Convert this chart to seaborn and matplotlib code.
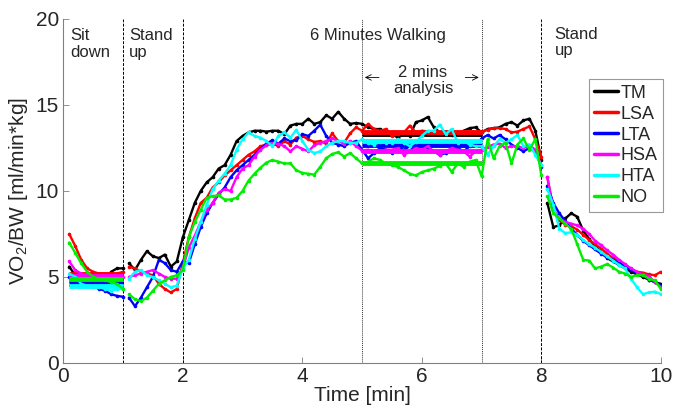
import matplotlib
matplotlib.use("Agg")
import matplotlib.pyplot as plt
from matplotlib.lines import Line2D
import seaborn as sns
import numpy as np
import pandas as pd

# sampling grid of the three recorded segments (min)
t_sit = np.round(np.arange(1, 11) * 0.1, 2)         # 0.1 .. 1.0
t_move = np.round(np.arange(11, 81) * 0.1, 2)       # 1.1 .. 8.0
t_rec = np.round(np.arange(81, 101) * 0.1, 2)       # 8.1 .. 10.0

names = ["TM", "LSA", "LTA", "HSA", "HTA", "NO"]
colors = ["#000000", "#ff0000", "#0000ff", "#ff00ff", "#00ffff", "#00ee00"]

# sit down
tm_sit = [5.6, 5.1, 4.9, 4.8, 4.8, 4.7, 4.8, 5.3, 5.5, 5.5]
lsa_sit = [7.5, 6.8, 6.0, 5.5, 5.3, 5.2, 5.2, 5.1, 5.2, 5.3]
lta_sit = [5.0, 4.8, 4.6, 4.6, 4.5, 4.3, 4.2, 4.0, 3.9, 3.85]
hsa_sit = [5.9, 5.4, 5.2, 5.1, 5.0, 5.0, 5.0, 5.0, 5.0, 5.0]
hta_sit = [5.2, 5.0, 4.6, 4.5, 4.4, 4.4, 4.3, 4.2, 4.3, 4.3]
no_sit = [7.0, 6.4, 5.8, 5.3, 5.0, 4.9, 4.8, 4.7, 4.6, 4.3]

# stand up + 6 minutes walking
tm_move = [5.8, 5.4, 6.0, 6.5, 6.2, 6.1, 6.3, 5.6, 5.9, 7.3,
           8.3, 9.3, 10.0, 10.5, 10.8, 11.3, 11.5, 12.1, 12.9, 13.2,
           13.4, 13.5, 13.5, 13.45, 13.5, 13.5, 13.3, 13.8, 13.9, 13.9,
           14.2, 13.9, 14.0, 14.4, 14.2, 14.6, 14.2, 13.9, 13.95, 13.9,
           13.7, 13.6, 13.6, 13.4, 13.3, 13.1, 13.3, 13.2, 14.0, 14.1,
           14.3, 13.7, 13.4, 13.3, 13.25, 13.3, 13.5, 13.65, 13.7, 13.4,
           13.6, 13.65, 13.7, 13.9, 14.0, 13.8, 14.1, 14.2, 13.5, 11.8]
lsa_move = [5.6, 5.5, 5.3, 5.2, 5.1, 4.6, 4.3, 4.1, 4.3, 5.8,
            7.3, 8.4, 9.3, 9.6, 10.2, 10.5, 10.9, 11.2, 11.5, 11.8,
            12.1, 12.3, 12.6, 12.7, 12.75, 12.6, 12.9, 12.7, 13.1, 13.2,
            13.0, 12.85, 12.9, 12.75, 13.35, 12.9, 12.8, 13.35, 13.7, 13.5,
            13.9, 13.6, 13.5, 13.6, 13.2, 13.3, 13.4, 13.8, 13.4, 13.5,
            13.45, 13.4, 13.35, 13.4, 13.35, 13.4, 13.35, 13.4, 13.4, 13.45,
            13.55, 13.65, 13.65, 13.6, 13.4, 13.45, 13.6, 13.75, 13.0, 12.0]
lta_move = [3.8, 3.3, 3.8, 4.4, 5.0, 6.0, 5.8, 5.4, 5.3, 5.9,
            5.8, 6.9, 7.9, 8.7, 9.3, 9.8, 10.2, 10.8, 11.2, 11.5,
            11.8, 12.1, 12.45, 12.75, 12.95, 12.75, 13.05, 12.9, 12.95, 13.3,
            13.2, 13.5, 13.85, 13.2, 12.8, 12.7, 12.6, 12.8, 12.9, 12.4,
            11.9, 12.2, 12.5, 12.4, 12.2, 12.5, 12.4, 12.6, 12.3, 12.6,
            12.5, 12.3, 12.1, 12.2, 12.4, 12.5, 12.3, 12.6, 12.65, 13.05,
            13.25, 13.05, 13.25, 13.0, 12.7, 12.5, 12.3, 12.5, 12.3, 11.4]
hsa_move = [5.0, 5.1, 5.2, 5.3, 5.4, 5.2, 5.0, 4.9, 4.9, 5.5,
            6.7, 7.4, 8.2, 8.9, 9.3, 9.9, 10.1, 10.0, 10.8, 11.3,
            11.5, 12.0, 12.4, 12.65, 12.75, 12.75, 12.6, 12.3, 12.6, 12.45,
            12.3, 12.65, 12.8, 12.9, 13.05, 12.9, 12.75, 12.9, 12.6, 12.35,
            12.4, 12.3, 12.3, 12.4, 12.4, 12.5, 12.1, 12.3, 12.5, 12.4,
            12.6, 12.3, 12.1, 12.3, 12.5, 12.4, 12.3, 12.0, 12.3, 12.4,
            12.55, 12.7, 12.75, 12.5, 12.6, 12.6, 12.5, 12.65, 12.4, 11.5]
hta_move = [4.9, 5.3, 5.4, 5.1, 5.0, 4.8, 4.6, 4.4, 4.5, 5.5,
            6.0, 7.2, 8.2, 9.2, 10.1, 10.6, 11.0, 11.5, 12.4, 13.0,
            13.4, 13.2, 13.1, 12.9, 12.6, 13.2, 13.4, 13.1, 13.55, 12.9,
            12.4, 12.2, 12.3, 12.6, 12.8, 12.9, 12.9, 12.8, 12.8, 13.0,
            12.8, 12.7, 12.85, 12.8, 12.8, 13.0, 12.8, 12.6, 12.85, 13.2,
            13.5, 13.5, 13.85, 13.3, 13.6, 12.8, 12.9, 12.7, 12.6, 12.6,
            12.1, 12.6, 13.0, 12.8, 13.0, 13.25, 12.6, 12.7, 12.1, 11.5]
no_move = [4.0, 3.7, 3.6, 3.8, 4.2, 4.6, 4.8, 5.0, 5.1, 5.4,
           7.3, 8.2, 8.9, 9.6, 9.7, 9.75, 9.5, 9.5, 9.6, 10.0,
           10.6, 11.0, 11.35, 11.65, 11.8, 11.7, 11.6, 11.6, 11.2, 11.05,
           11.0, 10.95, 11.4, 11.9, 12.15, 12.25, 12.0, 12.2, 11.9, 11.6,
           11.7, 11.9, 11.8, 11.6, 11.5, 11.4, 11.2, 11.0, 10.9, 11.1,
           11.2, 11.3, 11.45, 11.6, 11.1, 11.6, 11.4, 11.7, 11.8, 10.85,
           13.0, 11.9, 12.6, 12.8, 11.6, 12.7, 13.05, 12.4, 13.0, 10.9]

# stand up (recovery)
tm_rec = [9.3, 7.9, 8.0, 8.4, 8.7, 8.5, 7.7, 7.2, 6.8, 6.45,
          6.1, 5.9, 5.7, 5.5, 5.3, 5.15, 5.0, 4.85, 4.7, 4.6]
lsa_rec = [10.8, 9.0, 8.3, 8.05, 7.95, 7.75, 7.45, 7.15, 6.9, 6.65,
           6.35, 6.1, 5.9, 5.7, 5.45, 5.3, 5.25, 5.15, 5.1, 5.3]
lta_rec = [10.3, 9.3, 8.7, 8.25, 7.8, 7.45, 7.1, 6.85, 6.6, 6.35,
           6.15, 6.0, 5.8, 5.6, 5.4, 5.25, 5.1, 4.85, 4.7, 4.5]
hsa_rec = [10.8, 8.9, 8.4, 8.2, 8.1, 8.0, 7.8, 7.5, 7.1, 6.85,
           6.55, 6.3, 6.0, 5.75, 5.5, 5.3, 5.15, 5.05, 4.7, 4.4]
hta_rec = [10.1, 9.2, 7.8, 7.55, 7.6, 7.45, 7.15, 6.9, 6.7, 6.45,
           6.2, 5.95, 5.7, 5.5, 4.9, 4.4, 4.0, 4.1, 4.15, 4.0]
no_rec = [9.7, 8.7, 8.4, 8.1, 7.8, 6.9, 6.0, 5.95, 5.5, 5.6,
          5.75, 5.55, 5.3, 5.2, 5.0, 5.1, 5.1, 4.9, 4.8, 4.3]

# averages shown as thick bars
sit_means = [4.8, 5.2, 4.6, 5.05, 4.45, 4.9]      # 0.1 - 1.0 min
walk_means = [13.3, 13.4, 12.7, 12.3, 12.9, 11.6]  # 5 - 7 min (2 mins analysis)

series = {
    "TM": (tm_sit, tm_move, tm_rec),
    "LSA": (lsa_sit, lsa_move, lsa_rec),
    "LTA": (lta_sit, lta_move, lta_rec),
    "HSA": (hsa_sit, hsa_move, hsa_rec),
    "HTA": (hta_sit, hta_move, hta_rec),
    "NO": (no_sit, no_move, no_rec),
}

rows = []
for name in names:
    for phase, (tt, vv) in enumerate(zip((t_sit, t_move, t_rec), series[name])):
        for t, v in zip(tt, vv):
            rows.append({"series": name, "phase": phase, "t": t, "v": v})
df = pd.DataFrame(rows)

sns.set_style("white")
plt.rcParams["font.family"] = ["Liberation Sans", "DejaVu Sans"]
plt.rcParams["mathtext.default"] = "regular"

fig = plt.figure(figsize=(6.73, 4.12), dpi=100)
ax = fig.add_axes([0.094, 0.119, 0.888, 0.835])

palette = dict(zip(names, colors))
for i, name in enumerate(names):
    sub = df[df["series"] == name]
    sns.lineplot(data=sub, x="t", y="v", units="phase", estimator=None,
                 color=palette[name], lw=1.7, marker="o", markersize=2.6,
                 markeredgewidth=0, legend=False, ax=ax, zorder=3 + i)
    ax.plot([0.1, 1.0], [sit_means[i], sit_means[i]], color=palette[name],
            lw=3.5, solid_capstyle="butt", zorder=3 + i)
    ax.plot([5.0, 7.0], [walk_means[i], walk_means[i]], color=palette[name],
            lw=3.5, solid_capstyle="butt", zorder=3 + i)

for xv in [1, 2, 8]:
    ax.axvline(xv, color="black", lw=0.7, ls=(0, (3, 1.5)), zorder=2)
for xv in [5, 7]:
    ax.axvline(xv, color="#333333", lw=0.7, ls=(0, (1, 1)), zorder=2)

txt = dict(fontsize=12, va="top")
ax.text(0.12, 19.45, "Sit\ndown", ha="left", linespacing=1.1, **txt)
ax.text(1.1, 19.45, "Stand\nup", ha="left", linespacing=1.1, **txt)
ax.text(5.27, 19.45, "6 Minutes Walking", ha="center", **txt)
ax.text(6.02, 17.35, "2 mins\nanalysis", ha="center", linespacing=1.1, **txt)
ax.text(8.22, 19.55, "Stand\nup", ha="left", linespacing=1.1, **txt)
arrow = dict(arrowstyle="->", color="black", lw=0.6)
ax.annotate("", xy=(5.0, 16.6), xytext=(5.33, 16.6), arrowprops=arrow)
ax.annotate("", xy=(7.0, 16.6), xytext=(6.68, 16.6), arrowprops=arrow)

ax.set_xlim(0, 10)
ax.set_ylim(0, 20)
ax.set_xticks([0, 2, 4, 6, 8, 10])
ax.set_yticks([0, 5, 10, 15, 20])
ax.tick_params(direction="in", length=4, width=0.6, color="#808080",
               labelsize=15, pad=3, left=True, bottom=True)
sns.despine(ax=ax)
for s in ["left", "bottom"]:
    ax.spines[s].set_color("#808080")
    ax.spines[s].set_linewidth(0.8)
ax.set_xlabel("Time [min]", fontsize=15, labelpad=0)
ax.set_ylabel("VO$_2$/BW [ml/min*kg]", fontsize=15, labelpad=4)

handles = [Line2D([], [], color=c, lw=2.5) for c in colors]
leg = ax.legend(handles, names, loc="upper right", bbox_to_anchor=(1.003, 0.825),
                fontsize=13, handlelength=1.3, handletextpad=0.15,
                labelspacing=0.22, borderpad=0.3, borderaxespad=0,
                frameon=True, fancybox=False, framealpha=1)
leg.get_frame().set_edgecolor("#999999")
leg.get_frame().set_linewidth(0.8)
leg.set_zorder(20)

fig.savefig("out.png", dpi=100)
